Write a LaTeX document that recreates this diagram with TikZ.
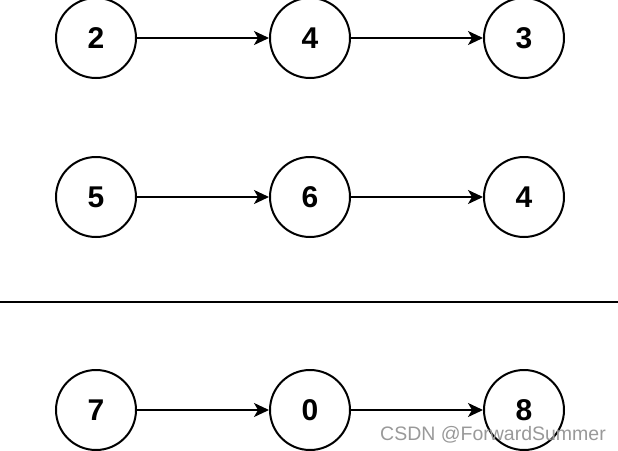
\documentclass[tikz,border=0pt]{standalone}
\usepackage{fontspec}
\setmainfont{Liberation Sans}
\usetikzlibrary{arrows.meta}
\begin{document}
\begin{tikzpicture}[x=1pt,y=-1pt,
  num/.style={circle,draw,line width=2pt,minimum size=80pt,inner sep=0pt,font=\fontsize{30}{31}\selectfont\bfseries},
  link/.style={line width=1.8pt,-{Stealth[length=15pt,width=14pt,inset=4pt]}},
  sep/.style={line width=2pt},
  wm/.style={text=black!40,font=\fontsize{19.5}{21}\selectfont,anchor=base west,inner sep=0pt}]
\useasboundingbox (0,0) rectangle (618,450);
\node[num] (a1) at (96,38) {2};
\node[num] (a2) at (310,38) {4};
\node[num] (a3) at (524,38) {3};
\node[num] (b1) at (96,197) {5};
\node[num] (b2) at (310,197) {6};
\node[num] (b3) at (524,197) {4};
\node[num] (c1) at (96,410) {7};
\node[num] (c2) at (310,410) {0};
\node[num] (c3) at (524,410) {8};
\draw[link] (a1) -- (a2);
\draw[link] (a2) -- (a3);
\draw[link] (b1) -- (b2);
\draw[link] (b2) -- (b3);
\draw[link] (c1) -- (c2);
\draw[link] (c2) -- (c3);
\coordinate (l1) at (0,302);
\coordinate (l2) at (618,302);
\draw[sep] (l1) -- (l2);
\node[wm] (w) at (380,440) {CSDN @ForwardSummer};
\end{tikzpicture}
\end{document}
